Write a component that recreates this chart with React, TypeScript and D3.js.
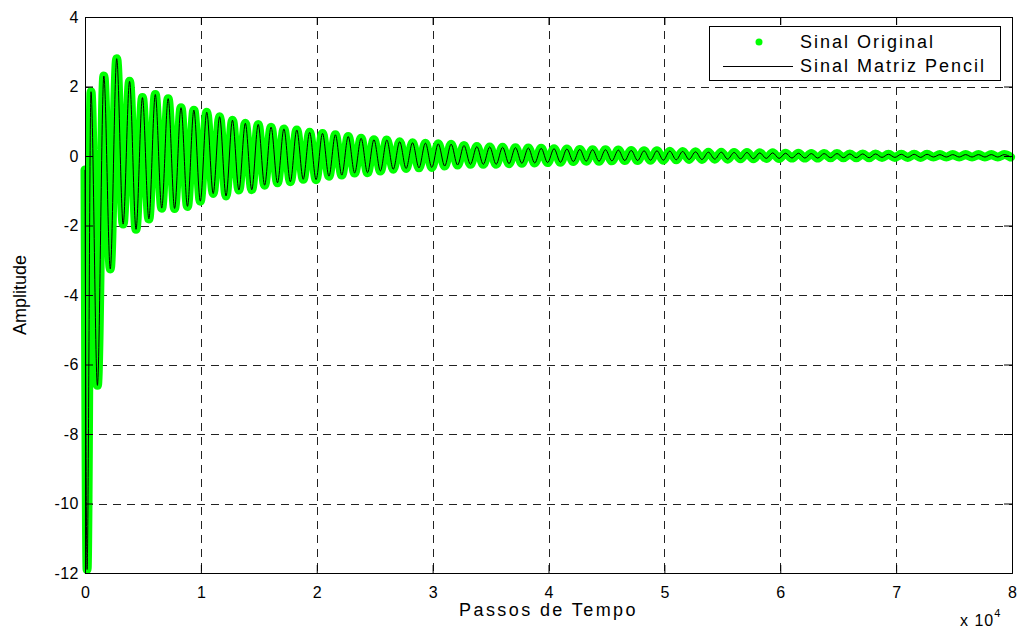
import { useRef, useEffect } from "react";
import * as d3 from "d3";

// amplitude, cycle by cycle
const startValue = -0.4;
const peaks = [
  1.85, 2.3, 2.8, 2.15, 1.68, 1.77, 1.65, 1.39, 1.32, 1.26,
  1.13, 1.03, 0.94, 0.91, 0.83, 0.78, 0.75, 0.68, 0.65, 0.61,
  0.56, 0.51, 0.47, 0.46, 0.41, 0.38, 0.37, 0.35, 0.34, 0.3,
  0.27, 0.26, 0.25, 0.24, 0.23, 0.22, 0.21, 0.2, 0.19, 0.18,
  0.18, 0.17, 0.16, 0.15, 0.15, 0.14, 0.13, 0.12, 0.11, 0.11,
  0.1, 0.1, 0.09, 0.09, 0.08, 0.08, 0.07, 0.07, 0.07, 0.06,
  0.06, 0.06, 0.05, 0.05, 0.05, 0.05, 0.04, 0.04, 0.04, 0.04,
  0.04, 0.04,
];
const troughs = [
  -11.9, -6.6, -3.25, -1.96, -2.11, -1.81, -1.5, -1.51, -1.45, -1.3,
  -1.08, -1.15, -0.98, -0.97, -0.84, -0.77, -0.74, -0.67, -0.68, -0.58,
  -0.55, -0.49, -0.48, -0.43, -0.38, -0.36, -0.34, -0.33, -0.29, -0.26,
  -0.24, -0.24, -0.24, -0.22, -0.21, -0.2, -0.19, -0.18, -0.16, -0.15,
  -0.15, -0.14, -0.13, -0.13, -0.12, -0.12, -0.11, -0.1, -0.1, -0.09,
  -0.09, -0.08, -0.08, -0.07, -0.07, -0.06, -0.06, -0.06, -0.05, -0.05,
  -0.05, -0.05, -0.04, -0.04, -0.04, -0.04, -0.03, -0.03, -0.03, -0.03,
  -0.03, -0.03, -0.03,
];
const dipStep = 180;
const firstPeakStep = 517;
const period = 1110;

const xTicks = [0, 1, 2, 3, 4, 5, 6, 7, 8];
const yTicks = [-12, -10, -8, -6, -4, -2, 0, 2, 4];
const legendLabels = ["Sinal Original", "Sinal Matriz Pencil"];

const width = 1020;
const height = 628;
const m = { left: 85, top: 17, right: 1012, bottom: 573 };
const font = "'Liberation Sans', Arial, Helvetica, sans-serif";

export default function App() {
  const ref = useRef<SVGSVGElement | null>(null);

  useEffect(() => {
    const svg = d3.select(ref.current);
    svg.selectAll("*").remove();

    const pts: { t: number; v: number }[] = [
      { t: 0, v: startValue },
      { t: dipStep, v: troughs[0] },
    ];
    peaks.forEach((p, k) => {
      const t = firstPeakStep + k * period;
      pts.push({ t, v: p });
      if (troughs[k + 1] != null) pts.push({ t: t + period / 2, v: troughs[k + 1] });
    });

    const x = d3.scaleLinear().domain([0, 80000]).range([m.left, m.right]);
    const y = d3.scaleLinear().domain([-12, 4]).range([m.bottom, m.top]);

    svg
      .append("rect")
      .attr("width", width)
      .attr("height", height)
      .attr("fill", "#fff");

    // grid
    const grid = svg.append("g").attr("stroke", "#222").attr("stroke-width", 1).attr("stroke-dasharray", "8,6");
    grid
      .selectAll("line.gx")
      .data(xTicks.slice(1, -1))
      .join("line")
      .attr("x1", (d) => Math.round(x(d * 1e4)) + 0.5)
      .attr("x2", (d) => Math.round(x(d * 1e4)) + 0.5)
      .attr("y1", m.top)
      .attr("y2", m.bottom);
    grid
      .selectAll("line.gy")
      .data(yTicks.slice(1, -1))
      .join("line")
      .attr("y1", (d) => Math.round(y(d)) + 0.5)
      .attr("y2", (d) => Math.round(y(d)) + 0.5)
      .attr("x1", m.left)
      .attr("x2", m.right);

    const line = d3
      .line<{ t: number; v: number }>()
      .x((d) => x(d.t))
      .y((d) => y(d.v))
      .curve(d3.curveMonotoneX);

    const plot = svg.append("g");
    plot
      .append("path")
      .datum(pts)
      .attr("fill", "none")
      .attr("stroke", "#00ff00")
      .attr("stroke-width", 9)
      .attr("stroke-linejoin", "round")
      .attr("stroke-linecap", "round")
      .attr("d", line);
    plot
      .append("path")
      .datum(pts)
      .attr("fill", "none")
      .attr("stroke", "#000")
      .attr("stroke-width", 1)
      .attr("d", line);

    // axes box + inward ticks
    const bottomAxis = d3
      .axisBottom(x)
      .tickValues(xTicks.map((d) => d * 1e4))
      .tickSize(-8)
      .tickFormat((d) => String(+d / 1e4))
      .tickPadding(14);
    const leftAxis = d3
      .axisLeft(y)
      .tickValues(yTicks)
      .tickSize(-8)
      .tickFormat((d) => String(d))
      .tickPadding(14);
    const gx = svg.append("g").attr("transform", `translate(0,${m.bottom})`).call(bottomAxis);
    const gy = svg.append("g").attr("transform", `translate(${m.left},0)`).call(leftAxis);
    svg
      .append("g")
      .attr("transform", `translate(0,${m.top})`)
      .call(d3.axisTop(x).tickValues(xTicks.map((d) => d * 1e4)).tickSize(-8).tickFormat(() => ""));
    svg
      .append("g")
      .attr("transform", `translate(${m.right},0)`)
      .call(d3.axisRight(y).tickValues(yTicks).tickSize(-8).tickFormat(() => ""));
    svg.selectAll(".domain").attr("stroke", "#000");
    svg.selectAll(".tick line").attr("stroke", "#000");
    [gx, gy].forEach((g) =>
      g.selectAll("text").attr("font-family", font).attr("font-size", 16).attr("fill", "#000")
    );
    gx.selectAll("text").attr("dy", "0.71em");
    gy.selectAll("text").attr("x", -6).attr("letter-spacing", 0.5);

    // axis titles
    svg
      .append("text")
      .attr("x", (m.left + m.right) / 2)
      .attr("y", 616)
      .attr("text-anchor", "middle")
      .attr("font-family", font)
      .attr("font-size", 18)
      .attr("letter-spacing", 2.4)
      .text("Passos de Tempo");
    svg
      .append("text")
      .attr("transform", `translate(26,${(m.top + m.bottom) / 2}) rotate(-90)`)
      .attr("text-anchor", "middle")
      .attr("font-family", font)
      .attr("font-size", 18)
      .text("Amplitude");
    const exp = svg
      .append("text")
      .attr("x", 960)
      .attr("y", 626)
      .attr("font-family", font)
      .attr("font-size", 16)
      .attr("letter-spacing", 1);
    exp.append("tspan").text("x 10");
    exp.append("tspan").attr("dy", -9).attr("font-size", 11).text("4");

    // legend
    const lg = svg.append("g");
    lg.append("rect")
      .attr("x", 709.5)
      .attr("y", 26.5)
      .attr("width", 291)
      .attr("height", 54)
      .attr("fill", "#fff")
      .attr("stroke", "#000");
    lg.append("circle").attr("cx", 759).attr("cy", 42).attr("r", 3.5).attr("fill", "#00ff00");
    lg.append("line")
      .attr("x1", 723)
      .attr("x2", 793)
      .attr("y1", 66.5)
      .attr("y2", 66.5)
      .attr("stroke", "#000");
    lg.selectAll("text.lg")
      .data(legendLabels)
      .join("text")
      .attr("x", 800)
      .attr("y", (_, i) => 48 + i * 24)
      .attr("font-family", font)
      .attr("font-size", 18)
      .attr("letter-spacing", 2)
      .text((d) => d);
  }, []);

  return (
    <svg
      ref={ref}
      width={width}
      height={height}
      style={{ position: "absolute", left: 0, top: 0 }}
    />
  );
}
